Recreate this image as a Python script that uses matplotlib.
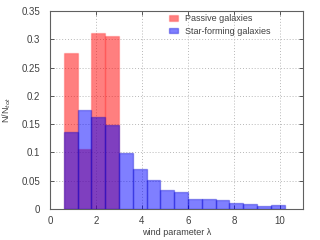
import matplotlib
matplotlib.use("Agg")
import matplotlib.pyplot as plt
import numpy as np

plt.rcParams['font.family'] = ['Liberation Sans', 'DejaVu Sans']

# bin edges of the wind parameter histogram
edges_passive = [0.6, 1.2, 1.8, 2.4, 3.0]
frac_passive = [0.275, 0.107, 0.312, 0.305]

edges_sf = [0.6, 1.2, 1.8, 2.4, 3.0, 3.6, 4.2, 4.8, 5.4, 6.0, 6.6, 7.2, 7.8, 8.4, 9.0, 9.6, 10.2]
frac_sf = [0.137, 0.175, 0.163, 0.148, 0.099, 0.071, 0.051, 0.034, 0.031,
           0.018, 0.018, 0.016, 0.011, 0.009, 0.005, 0.0065]

xticks = [0, 2, 4, 6, 8, 10]
yticks = [0, 0.05, 0.1, 0.15, 0.2, 0.25, 0.3, 0.35]
ytick_labels = ["0", "0.05", "0.1", "0.15", "0.2", "0.25", "0.3", "0.35"]

txt = "#404040"
fig = plt.figure(figsize=(3.2, 2.4), dpi=100)
ax = fig.add_axes([0.156, 0.129, 0.791, 0.825])

ax.grid(True, color="#b8b8b8", linestyle=(0, (1, 2)), linewidth=0.7)
ax.set_axisbelow(True)

w_p = np.diff(edges_passive)
ax.bar(edges_passive[:-1], frac_passive, width=w_p, align="edge",
       color=(1, 0, 0, 0.5), edgecolor=(1, 0, 0, 0.2), linewidth=1,
       label="Passive galaxies", zorder=2)
w_s = np.diff(edges_sf)
ax.bar(edges_sf[:-1], frac_sf, width=w_s, align="edge",
       color=(0, 0, 1, 0.5), edgecolor=(0, 0, 0.8, 0.35), linewidth=1,
       label="Star-forming galaxies", zorder=3)

ax.set_xlim(0, 11)
ax.set_ylim(0, 0.35)
ax.set_xticks(xticks)
ax.set_yticks(yticks)
ax.set_yticklabels(ytick_labels)
ax.tick_params(direction="in", top=True, right=True, labelsize=7,
               colors=txt, length=3, width=0.6)
ax.tick_params(axis="x", pad=5)
ax.tick_params(axis="y", pad=7)
for s in ax.spines.values():
    s.set_color("#606060")
    s.set_linewidth(0.8)

ax.set_xlabel("wind parameter λ", fontsize=6.5, color=txt)
ax.xaxis.set_label_coords(0.5, -0.095)
ax.set_ylabel("N/N$_{tot}$", fontsize=6.5, color=txt)
ax.yaxis.set_label_coords(-0.145, 0.5)

leg = ax.legend(loc="upper left", bbox_to_anchor=(0.45, 1.01), fontsize=6.5,
                frameon=False, handlelength=1.0, handleheight=0.6,
                handletextpad=0.8, labelspacing=0.35, borderaxespad=0.2)
for t in leg.get_texts():
    t.set_color(txt)

fig.savefig("out.png", dpi=100)
